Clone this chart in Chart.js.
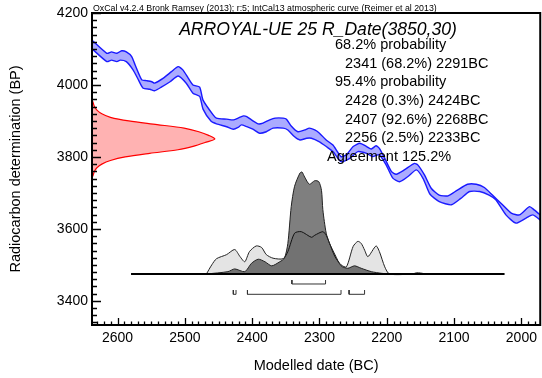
<!DOCTYPE html>
<html>
<head>
<meta charset="utf-8">
<script src="https://cdn.jsdelivr.net/npm/chart.js@4.4.1/dist/chart.umd.min.js"></script>
<style>
  html, body { margin: 0; background: #fff; }
  canvas { display: block; }
</style>
</head>
<body>
<canvas id="grafico" width="542" height="378"></canvas>
<script>
// Curva de calibração (IntCal13), limites superior e inferior da faixa de 1 sigma
const calUpperYears = [2640, 2616, 2609, 2601, 2594, 2587, 2579, 2574, 2564, 2557, 2549, 2545, 2532, 2520, 2510, 2503, 2495, 2488, 2478, 2473, 2458, 2453, 2438, 2428, 2421, 2413, 2408, 2401, 2391, 2384, 2374, 2366, 2354, 2349, 2342, 2332, 2322, 2315, 2307, 2300, 2290, 2280, 2268, 2260, 2250, 2240, 2230, 2223, 2216, 2211, 2203, 2193, 2186, 2174, 2159, 2154, 2144, 2134, 2122, 2109, 2095, 2080, 2067, 2055, 2043, 2028, 2015, 2003, 1988, 1981, 1970];
const calUpperBP = [4128, 4088, 4092, 4088, 4095, 4092, 4079, 4056, 4014, 4012, 4009, 4005, 4019, 4037, 4051, 4042, 4019, 4000, 3994, 3958, 3917, 3908, 3905, 3903, 3908, 3914, 3912, 3903, 3892, 3894, 3903, 3908, 3908, 3905, 3886, 3870, 3875, 3880, 3875, 3866, 3847, 3833, 3801, 3806, 3829, 3838, 3829, 3822, 3831, 3824, 3796, 3759, 3752, 3764, 3782, 3778, 3750, 3713, 3694, 3692, 3708, 3724, 3724, 3715, 3694, 3667, 3644, 3639, 3662, 3653, 3636];
const calLowerYears = [2640, 2616, 2609, 2601, 2596, 2587, 2577, 2569, 2562, 2552, 2545, 2535, 2522, 2510, 2498, 2488, 2478, 2473, 2461, 2453, 2438, 2428, 2421, 2416, 2408, 2399, 2389, 2379, 2369, 2354, 2347, 2337, 2329, 2319, 2312, 2300, 2290, 2280, 2268, 2255, 2243, 2230, 2221, 2211, 2201, 2191, 2181, 2169, 2156, 2146, 2136, 2122, 2104, 2090, 2077, 2062, 2048, 2038, 2023, 2008, 1993, 1983, 1970];
const calLowerBP = [4104, 4065, 4069, 4065, 4069, 4065, 4042, 4014, 3991, 3988, 3984, 3994, 4009, 4025, 4005, 3977, 3968, 3933, 3899, 3892, 3884, 3877, 3882, 3889, 3884, 3877, 3866, 3870, 3880, 3880, 3875, 3856, 3847, 3852, 3852, 3842, 3829, 3815, 3787, 3796, 3815, 3810, 3801, 3806, 3778, 3741, 3731, 3745, 3764, 3740, 3697, 3676, 3667, 3685, 3704, 3704, 3694, 3681, 3639, 3616, 3630, 3639, 3622];

// Determinação radiocarbono R_Date(3850,30): densidade relativa por idade BP
const rdateBP = [3960, 3950, 3940, 3930, 3920, 3910, 3900, 3890, 3880, 3870, 3860, 3850, 3840, 3830, 3820, 3810, 3800, 3790, 3780, 3770, 3760, 3750, 3742];
const rdateDensity = [0, 0.01, 0.02, 0.04, 0.08, 0.15, 0.30, 0.53, 0.75, 0.87, 0.95, 1.0, 0.92, 0.83, 0.70, 0.47, 0.27, 0.15, 0.08, 0.04, 0.02, 0.01, 0];

// Distribuição não modelada (cinza claro) e modelada (cinza escuro)
const likeYears = [2468, 2460, 2453, 2438, 2426, 2418, 2411, 2404, 2394, 2386, 2379, 2369, 2354, 2347, 2337, 2327, 2312, 2307, 2295, 2290, 2285, 2277, 2268, 2260, 2250, 2243, 2238, 2233, 2228, 2216, 2211, 2203, 2196, 2162, 2156, 2150, 2142];
const likeDensity = [0, 0.09, 0.15, 0.19, 0.24, 0.17, 0.12, 0.22, 0.275, 0.26, 0.19, 0.155, 0.15, 0.22, 0.40, 0.415, 0.36, 0.38, 0.415, 0.38, 0.30, 0.17, 0.09, 0.07, 0.27, 0.32, 0.30, 0.235, 0.17, 0.275, 0.22, 0.07, 0, 0, 0.012, 0.01, 0];
const postYears = [2468, 2436, 2426, 2411, 2401, 2391, 2381, 2371, 2359, 2352, 2347, 2342, 2337, 2329, 2326, 2322, 2315, 2307, 2301, 2297, 2295, 2290, 2285, 2277, 2268, 2258, 2248, 2238, 2223, 2208, 2196];
const postDensity = [0, 0.023, 0.05, 0.023, 0.105, 0.145, 0.12, 0.08, 0.12, 0.155, 0.30, 0.66, 0.86, 0.99, 1.0, 0.95, 0.88, 0.915, 0.905, 0.82, 0.63, 0.40, 0.30, 0.19, 0.08, 0.056, 0.08, 0.056, 0.023, 0.007, 0];

// Intervalos de probabilidade (anos BC)
const range68 = [[2341, 2291]];
const range95 = [[2428, 2424], [2407, 2268], [2256, 2233]];
const baselineYears = [2580, 2025];

const yLabels = [3400, 3600, 3800, 4000, 4200];
const xLabels = [2600, 2500, 2400, 2300, 2200, 2100, 2000];

const headerText = "OxCal v4.2.4 Bronk Ramsey (2013); r:5; IntCal13 atmospheric curve (Reimer et al 2013)";
const sampleTitle = "ARROYAL-UE 25 R_Date(3850,30)";
const summaryLines = [
  { text: "68.2% probability", indent: 0 },
  { text: "2341 (68.2%) 2291BC", indent: 1 },
  { text: "95.4% probability", indent: 0 },
  { text: "2428 (0.3%) 2424BC", indent: 1 },
  { text: "2407 (92.6%) 2268BC", indent: 1 },
  { text: "2256 (2.5%) 2233BC", indent: 1 },
  { text: "Agreement 125.2%", indent: -1 }
];

const FONTE = '"Liberation Sans", Arial, sans-serif';
const AZUL = "#1c1cff";

Chart.defaults.font.family = FONTE;
Chart.defaults.color = "#000";

const pontos = (xs, ys) => xs.map((x, i) => ({ x, y: ys[i] }));

// colchetes dos intervalos, desenhados na escala das distribuições
function colchete(faixa, topo, base) {
  return {
    data: [
      { x: faixa[0], y: topo }, { x: faixa[0], y: base },
      { x: faixa[1], y: base }, { x: faixa[1], y: topo }
    ],
    xAxisID: "x", yAxisID: "yd",
    borderColor: "#333", borderWidth: 1, pointRadius: 0, fill: false, order: 1
  };
}

const eixosOxcal = {
  id: "eixosOxcal",
  afterDraw(chart) {
    const { ctx, chartArea: a, scales } = chart;
    ctx.save();
    ctx.strokeStyle = "#000";
    ctx.lineWidth = 1.3;
    ctx.beginPath();
    for (let v = 3340; v <= 4200; v += 20) {
      const y = Math.round(scales.y.getPixelForValue(v)) + 0.5;
      const len = v % 200 === 0 ? 9 : 5;
      ctx.moveTo(a.left, y);
      ctx.lineTo(a.left + len, y);
    }
    for (let v = 1980; v <= 2630; v += 10) {
      const x = Math.round(scales.x.getPixelForValue(v)) + 0.5;
      const len = v % 100 === 0 ? 7 : 3.5;
      ctx.moveTo(x, a.bottom);
      ctx.lineTo(x, a.bottom - len);
    }
    ctx.stroke();

    ctx.lineWidth = 2;
    ctx.strokeRect(a.left, a.top, a.right - a.left, a.bottom - a.top);

    ctx.fillStyle = "#000";
    ctx.textBaseline = "alphabetic";
    ctx.textAlign = "left";
    ctx.font = "8.8px " + FONTE;
    ctx.fillText(headerText, 93, 11);

    ctx.textAlign = "center";
    ctx.font = "italic 17.6px " + FONTE;
    ctx.fillText(sampleTitle, 318, 34.6);

    ctx.textAlign = "left";
    ctx.font = "14.5px " + FONTE;
    summaryLines.forEach((l, i) => {
      const x = l.indent === 1 ? 345 : l.indent === 0 ? 335 : 327;
      ctx.fillText(l.text, x, 49.3 + i * 18.55);
    });
    ctx.restore();
  }
};

new Chart(document.getElementById("grafico"), {
  type: "line",
  data: {
    datasets: [
      {
        data: pontos(calUpperYears, calUpperBP),
        xAxisID: "x", yAxisID: "y",
        borderColor: AZUL, borderWidth: 1.4, pointRadius: 0, tension: 0.2,
        fill: false, order: 6
      },
      {
        data: pontos(calLowerYears, calLowerBP),
        xAxisID: "x", yAxisID: "y",
        borderColor: AZUL, borderWidth: 1.4, pointRadius: 0, tension: 0.2,
        fill: "-1", backgroundColor: "rgba(0,0,255,0.33)", order: 5
      },
      {
        data: pontos(rdateDensity, rdateBP),
        xAxisID: "xd", yAxisID: "y",
        borderColor: "#ff0000", borderWidth: 1.2, pointRadius: 0, tension: 0.3,
        fill: "shape", backgroundColor: "rgba(255,0,0,0.3)", order: 4
      },
      {
        data: pontos(likeYears, likeDensity),
        xAxisID: "x", yAxisID: "yd",
        borderColor: "#222", borderWidth: 1, pointRadius: 0, tension: 0.25,
        fill: "shape", backgroundColor: "#e4e4e4", order: 3
      },
      {
        data: pontos(postYears, postDensity),
        xAxisID: "x", yAxisID: "yd",
        borderColor: "#222", borderWidth: 1, pointRadius: 0, tension: 0.25,
        fill: "shape", backgroundColor: "rgba(0,0,0,0.5)", order: 2
      },
      {
        data: baselineYears.map(x => ({ x, y: 0 })),
        xAxisID: "x", yAxisID: "yd",
        borderColor: "#000", borderWidth: 2, pointRadius: 0, fill: false, order: 1
      },
      ...range68.map(f => colchete(f, -0.059, -0.098)),
      ...range95.map(f => colchete(f, -0.157, -0.199))
    ]
  },
  options: {
    responsive: false,
    animation: false,
    devicePixelRatio: 1,
    layout: { padding: { top: 13, right: 1, left: 0, bottom: 0 } },
    plugins: { legend: { display: false }, tooltip: { enabled: false } },
    scales: {
      x: {
        type: "linear", position: "bottom", min: 1972, max: 2638, reverse: true,
        grid: { display: false, drawTicks: false }, border: { display: false },
        afterBuildTicks: s => { s.ticks = xLabels.map(v => ({ value: v })); },
        afterFit: s => { s.height = 53; },
        ticks: { font: { size: 14 }, padding: 5, maxRotation: 0, autoSkip: false, callback: v => String(v) },
        title: { display: true, text: "Modelled date (BC)", font: { size: 14.5 }, padding: { top: 0, bottom: 3 } }
      },
      y: {
        type: "linear", position: "left", min: 3333, max: 4200,
        grid: { display: false, drawTicks: false }, border: { display: false },
        afterBuildTicks: s => { s.ticks = yLabels.map(v => ({ value: v })); },
        afterFit: s => { s.width = 92; },
        ticks: { font: { size: 14 }, padding: 4, callback: v => String(v) },
        title: { display: true, text: "Radiocarbon determination (BP)", font: { size: 14.5 }, padding: { top: 7, bottom: 0 } }
      },
      xd: { type: "linear", axis: "x", display: false, min: 0, max: 3.65 },
      yd: { type: "linear", axis: "y", display: false, min: -0.5, max: 2.5588 }
    }
  },
  plugins: [eixosOxcal]
});
</script>
</body>
</html>
